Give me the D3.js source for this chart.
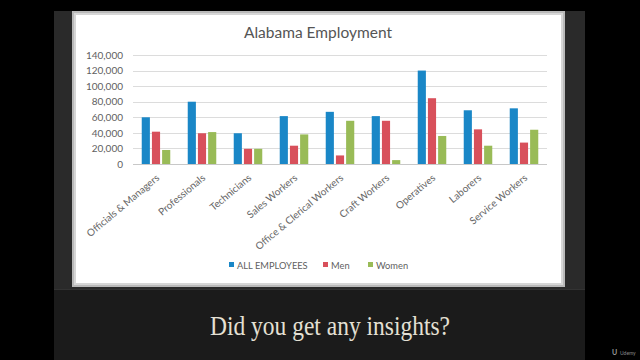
<!DOCTYPE html>
<html>
<head>
<meta charset="utf-8">
<script src="https://cdn.jsdelivr.net/npm/d3@7"></script>
<style>
  html, body { margin: 0; padding: 0; background: #000; }
  svg { display: block; }
</style>
</head>
<body>
<svg id="chart" width="640" height="360"></svg>
<script>
// ---- data ----
const categories = ["Officials & Managers", "Professionals", "Technicians", "Sales Workers",
  "Office & Clerical Workers", "Craft Workers", "Operatives", "Laborers", "Service Workers"];
const seriesNames = ["ALL EMPLOYEES", "Men", "Women"];
const allEmployees = [60000, 80000, 39500, 61500, 67000, 61500, 120000, 69000, 71500];
const men = [41500, 39500, 19500, 23500, 11000, 55500, 84500, 44500, 27500];
const women = [18000, 41000, 19500, 38000, 55500, 5000, 36000, 23500, 44000];
const yTicks = [0, 20000, 40000, 60000, 80000, 100000, 120000, 140000];
const colors = ["#1a87c7", "#d8505b", "#99bb57"];
const titleText = "Alabama Employment";
const captionText = "Did you get any insights?";

const values = [allEmployees, men, women];
const rows = categories.map((c, i) => ({
  cat: c,
  vals: seriesNames.map((s, j) => ({ s, v: values[j][i] }))
}));

const svg = d3.select("#chart");

// ---- slide background ----
svg.append("rect").attr("x", 0).attr("y", 0).attr("width", 640).attr("height", 360).attr("fill", "#000");
svg.append("rect").attr("x", 54).attr("y", 11).attr("width", 531).attr("height", 278).attr("fill", "#2a2a2a");
svg.append("rect").attr("x", 54).attr("y", 289).attr("width", 531).attr("height", 71).attr("fill", "#1b1b1b");
svg.append("line").attr("x1", 54).attr("x2", 585).attr("y1", 289.5).attr("y2", 289.5).attr("stroke", "#333");

// ---- chart panel ----
svg.append("rect").attr("x", 72).attr("y", 11).attr("width", 493).attr("height", 276).attr("fill", "#b9b9b9");
svg.append("rect").attr("x", 74).attr("y", 13).attr("width", 489).attr("height", 272).attr("fill", "#d6d6d6");
svg.append("rect").attr("x", 76).attr("y", 15).attr("width", 485).attr("height", 268).attr("fill", "#ffffff");

// ---- scales ----
const x0 = d3.scaleBand().domain(categories).range([133, 547]).paddingInner(0.38).paddingOuter(0.19);
const x1 = d3.scaleBand().domain(seriesNames).range([0, x0.bandwidth()]).paddingInner(0.2);
const y = d3.scaleLinear().domain([0, 140000]).range([164, 55]);
const color = d3.scaleOrdinal().domain(seriesNames).range(colors);

// gridlines
svg.append("g").selectAll("line").data(yTicks).join("line")
  .attr("x1", 133).attr("x2", 547)
  .attr("y1", d => Math.round(y(d)) + 0.5).attr("y2", d => Math.round(y(d)) + 0.5)
  .attr("stroke", d => d === 0 ? "#c8c8c8" : "#dcdcdc").attr("stroke-width", 1);

// y axis labels
const yAxis = d3.axisLeft(y).tickValues(yTicks).tickFormat(d3.format(",")).tickSize(0).tickPadding(0);
const yg = svg.append("g").attr("transform", "translate(123,0)").call(yAxis);
yg.select(".domain").remove();
yg.selectAll("text").attr("font-family", "Lato, 'Open Sans', sans-serif").attr("font-size", 10).attr("fill", "#5f5f5f");

// bars
svg.append("g").selectAll("g").data(rows).join("g")
  .attr("transform", d => `translate(${x0(d.cat)},0)`)
  .selectAll("rect").data(d => d.vals).join("rect")
  .attr("x", d => x1(d.s))
  .attr("width", x1.bandwidth())
  .attr("y", d => y(d.v))
  .attr("height", d => y(0) - y(d.v))
  .attr("fill", d => color(d.s));

// x labels
const xAxis = d3.axisBottom(x0).tickSize(0).tickPadding(0);
const xg = svg.append("g").attr("transform", "translate(0,164)").call(xAxis);
xg.select(".domain").remove();
xg.selectAll("text")
  .attr("font-family", "Lato, 'Open Sans', sans-serif").attr("font-size", 10).attr("fill", "#666666")
  .attr("text-anchor", "end").attr("dy", null).attr("y", 0)
  .attr("transform", "translate(4,15) rotate(-40)");

// title
svg.append("text").attr("x", 318).attr("y", 38).attr("text-anchor", "middle")
  .attr("font-family", "Lato, 'Open Sans', sans-serif").attr("font-size", 15.5).attr("fill", "#555555")
  .text(titleText);

// legend
const legendX = [229, 323, 368];
const lg = svg.append("g").selectAll("g").data(seriesNames).join("g")
  .attr("transform", (d, i) => `translate(${legendX[i]},266)`);
lg.append("rect").attr("x", 0).attr("y", -4).attr("width", 5).attr("height", 5).attr("fill", d => color(d));
lg.append("text").attr("x", 8).attr("y", 0).attr("dy", "0.35em")
  .attr("font-family", "Lato, 'Open Sans', sans-serif").attr("font-size", 9.3).attr("fill", "#5f5f5f")
  .text(d => d);

// caption
svg.append("text").attr("x", 210).attr("y", 335)
  .attr("font-family", "'Liberation Serif', 'DejaVu Serif', serif").attr("font-size", 28)
  .attr("fill", "#e4e0d4").attr("textLength", 240).attr("lengthAdjust", "spacingAndGlyphs")
  .text(captionText);

// udemy mark
svg.append("text").attr("x", 612).attr("y", 355)
  .attr("font-family", "Lato, sans-serif").attr("font-size", 7).attr("font-weight", "bold").attr("fill", "#9a9a9a")
  .text("U");
svg.append("text").attr("x", 620).attr("y", 354.5)
  .attr("font-family", "Lato, sans-serif").attr("font-size", 5).attr("fill", "#8a8a8a")
  .text("Udemy");
</script>
</body>
</html>
